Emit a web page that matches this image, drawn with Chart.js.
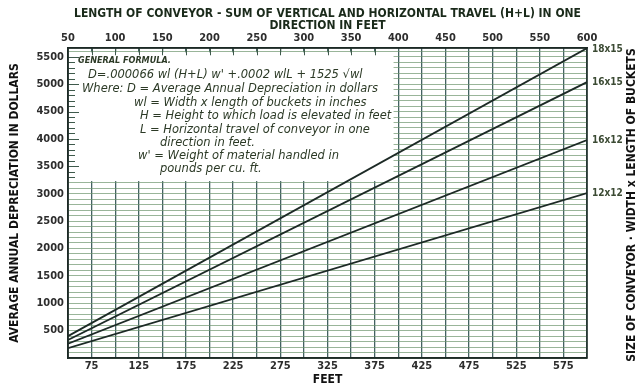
<!DOCTYPE html>
<html>
<head>
<meta charset="utf-8">
<script src="https://cdn.jsdelivr.net/npm/chart.js@4.4.1/dist/chart.umd.min.js"></script>
<style>
  html, body { margin: 0; padding: 0; background: #fff; }
  #wrap { width: 640px; height: 386px; }
</style>
</head>
<body>
<div id="wrap"><canvas id="chart" width="640" height="386"></canvas></div>
<script>
'use strict';

// ── Data ────────────────────────────────────────────────────
const feet     = [50, 600];               // H+L, conveyor length in feet
const d18x15   = [400, 5657];
const d16x15   = [330, 5036];
const d16x12   = [260, 3978];
const d12x12   = [180, 3011];
const sizes    = ['18x15', '16x15', '16x12', '12x12'];
const topTicks    = [50, 100, 150, 200, 250, 300, 350, 400, 450, 500, 550, 600];
const bottomTicks = [75, 125, 175, 225, 275, 325, 375, 425, 475, 525, 575];
const yLabels     = [500, 1000, 1500, 2000, 2500, 3000, 3500, 4000, 4500, 5000, 5500];

const formulaLines = [
  ['GENERAL FORMULA.', 10, 13],
  ["D=.000066 wl (H+L) w' +.0002 wlL + 1525 \u221Awl", 20, 27],
  ['Where: D = Average Annual Depreciation in dollars', 14, 41],
  ['wl = Width x length of buckets in inches', 66, 55],
  ['H = Height to which load is elevated in feet', 72, 68],
  ['L = Horizontal travel of conveyor in one', 72, 82],
  ['direction in feet.', 92, 95],
  ["w' = Weight of material handled in", 70, 108],
  ['pounds per cu. ft.', 92, 121],
];

const INK   = '#1d2a26';
const FONT  = "'DejaVu Sans Condensed', 'DejaVu Sans', sans-serif";
const BOXFONT = "'DejaVu Sans', sans-serif";

// ── Formula box, edge ticks, size labels and right caption ──
const paperPlugin = {
  id: 'paper',
  beforeDatasetsDraw(chart) {
    const { ctx, chartArea: a, scales: { x, y } } = chart;
    const bx0 = a.left + 1, bx1 = x.getPixelForValue(395);
    const by0 = y.getPixelForValue(5600) + 1, by1 = y.getPixelForValue(3230);
    ctx.save();
    ctx.fillStyle = '#ffffff';
    ctx.fillRect(bx0, by0, bx1 - bx0, by1 - by0);

    // ruler stubs along the left edge and the top edge of the box
    ctx.strokeStyle = '#3f5a4c';
    ctx.lineWidth = 1;
    for (let v = 3300; v <= 5500; v += 100) {
      const py = Math.round(y.getPixelForValue(v)) + 0.5;
      ctx.beginPath();
      ctx.moveTo(a.left, py);
      ctx.lineTo(a.left + (v % 500 === 0 ? 11 : 7), py);
      ctx.stroke();
    }
    for (let f = 75; f <= 390; f += 25) {
      const px = Math.round(x.getPixelForValue(f)) + 0.5;
      ctx.beginPath();
      ctx.moveTo(px, a.top);
      ctx.lineTo(px, by0 + 3);
      ctx.stroke();
    }

    // formula text
    ctx.fillStyle = '#2c3a26';
    ctx.textBaseline = 'middle';
    formulaLines.forEach(([t, dx, dy], i) => {
      ctx.font = (i === 0 ? 'italic bold 9px ' + FONT : 'italic 11.5px ' + BOXFONT);
      ctx.fillText(t, a.left + dx, a.top + dy);
    });
    ctx.restore();
  },
  afterDatasetsDraw(chart) {
    const { ctx, chartArea: a } = chart;
    ctx.save();
    ctx.strokeStyle = INK;
    ctx.lineWidth = 1.5;
    ctx.strokeRect(a.left, a.top, a.right - a.left, a.bottom - a.top);

    ctx.fillStyle = '#3b4a33';
    ctx.font = 'bold 10px ' + FONT;
    ctx.textBaseline = 'middle';
    chart.data.datasets.forEach((ds, i) => {
      const pts = chart.getDatasetMeta(i).data;
      const p = pts[pts.length - 1];
      ctx.fillText(ds.label, p.x + 5, Math.max(p.y, a.top + 1));
    });

    ctx.fillStyle = '#111';
    ctx.font = 'bold 12px ' + FONT;
    ctx.textAlign = 'center';
    ctx.translate(632, (a.top + a.bottom) / 2 + 2);
    ctx.rotate(-Math.PI / 2);
    ctx.fillText('SIZE OF CONVEYOR \u00B7 WIDTH x LENGTH OF BUCKETS', 0, 0);
    ctx.restore();
  }
};

const seriesVals = [d18x15, d16x15, d16x12, d12x12];
const datasets = sizes.map((s, i) => ({
  label: s,
  data: feet.map((f, j) => ({ x: f, y: seriesVals[i][j] })),
  borderColor: INK,
  borderWidth: 1.8,
  pointRadius: 0,
  tension: 0,
  xAxisID: 'x',
  yAxisID: 'y',
}));

new Chart(document.getElementById('chart'), {
  type: 'line',
  data: { datasets },
  options: {
    responsive: false,
    animation: false,
    layout: { padding: { left: 0, right: 53, top: 0, bottom: 0 } },
    plugins: { legend: { display: false }, tooltip: { enabled: false }, title: { display: false } },
    scales: {
      x: {
        type: 'linear', position: 'bottom', min: 50, max: 600,
        afterFit: s => { s.height = 28; },
        afterBuildTicks: s => {
          const t = [];
          for (let v = 50; v <= 600; v += 25) t.push({ value: v });
          s.ticks = t;
        },
        ticks: {
          autoSkip: false, maxRotation: 0, padding: 2,
          color: '#2d2d2d', font: { family: FONT, size: 11, weight: 'bold' },
          callback: v => bottomTicks.includes(v) ? String(v) : '',
        },
        grid: { color: 'rgba(35,70,70,0.85)', lineWidth: 1.3, drawTicks: false },
        border: { display: true, color: INK, width: 1.5 },
        title: { display: true, text: 'FEET', color: '#111', padding: { top: 0, bottom: 0 },
                 font: { family: FONT, size: 12, weight: 'bold', lineHeight: 1 } },
      },
      xTop: {
        type: 'linear', position: 'top', min: 50, max: 600,
        afterFit: s => { s.height = 48; },
        afterBuildTicks: s => { s.ticks = topTicks.map(v => ({ value: v })); },
        ticks: {
          autoSkip: false, maxRotation: 0, padding: 3,
          color: '#2d2d2d', font: { family: FONT, size: 11, weight: 'bold' },
        },
        grid: { display: false, drawTicks: false },
        border: { display: true, color: INK, width: 1.5 },
        title: {
          display: true, color: '#1a2a1a',
          text: ['LENGTH OF CONVEYOR - SUM OF VERTICAL AND HORIZONTAL TRAVEL (H+L) IN ONE', 'DIRECTION IN FEET'],
          padding: { top: 8, bottom: 0 },
          font: { family: FONT, size: 12, weight: 'bold', lineHeight: 1 },
        },
      },
      y: {
        type: 'linear', position: 'left', min: 0, max: 5660,
        afterFit: s => { s.width = 68; },
        afterBuildTicks: s => {
          const t = [];
          for (let v = 0; v <= 5600; v += 100) t.push({ value: v });
          s.ticks = t;
        },
        ticks: {
          autoSkip: false, padding: 4,
          color: '#2d2d2d', font: { family: FONT, size: 11, weight: 'bold' },
          callback: v => yLabels.includes(v) ? String(v) : '',
        },
        grid: { color: 'rgba(110,150,110,0.7)', lineWidth: 1, drawTicks: false },
        border: { display: true, color: INK, width: 1.5 },
        title: { display: true, text: 'AVERAGE ANNUAL DEPRECIATION IN DOLLARS', color: '#111',
                 padding: { top: 9, bottom: 0 },
                 font: { family: FONT, size: 12, weight: 'bold', lineHeight: 1 } },
      },
    },
  },
  plugins: [paperPlugin],
});
</script>
</body>
</html>
